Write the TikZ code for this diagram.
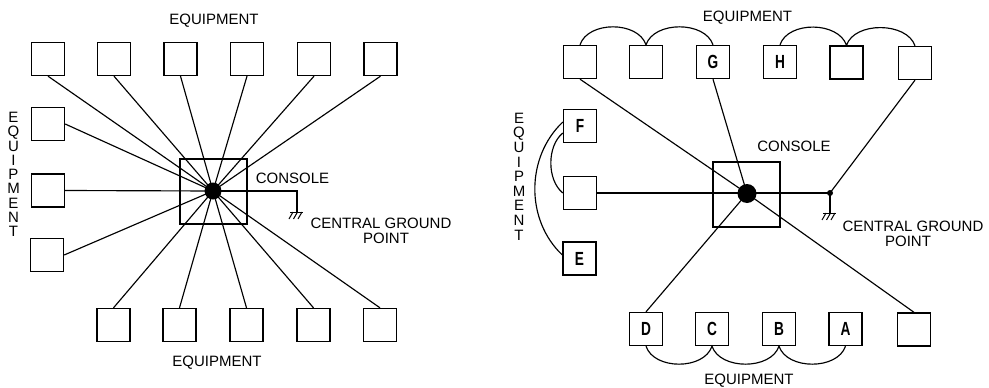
\documentclass[tikz,border=0pt]{standalone}
\usepackage{fontspec}
\setmainfont{Liberation Sans}
\begin{document}
\begin{tikzpicture}[x=1pt,y=-1pt,
  eq/.style={draw, line width=1.35pt, minimum width=33pt, minimum height=33pt, inner sep=0pt,
    font=\fontsize{19}{19}\selectfont\bfseries},
  wire/.style={line width=1.15pt},
  lbl/.style={font=\fontsize{15}{15}\selectfont, inner sep=0pt},
  vlbl/.style={inner sep=0pt, align=center},
  consolebox/.style={draw, line width=1.25pt, minimum width=67pt, minimum height=65pt, inner sep=0pt},
  hubdot/.style={circle, fill, inner sep=0pt},
  gnd/.pic={\draw[line width=1pt] (-7,0) -- (6,0);
    \foreach \gx in {-4,0.5,5} \draw[line width=1pt] (\gx,0) -- ++(-4,7);}
]
\useasboundingbox (0,0) rectangle (989,388);

% ================= LEFT DIAGRAM =================
\node[consolebox] (conL) at (213.5,191.5) {};
\foreach \n/\x in {1/48,2/114,3/180.5,4/247,5/314,6/380.5}
  \node[eq] (lt\n) at (\x,59) {};
\node[eq] (ll1) at (48,124) {};
\node[eq] (ll2) at (48,190.5) {};
\node[eq] (ll3) at (47,255) {};
\foreach \n/\x in {1/113.5,2/179.5,3/246.5,4/313.5,5/380}
  \node[eq] (lb\n) at (\x,325) {};
\coordinate (hubLc) at (213,191);
\foreach \n in {1,...,6} \draw[wire] (lt\n.south) -- (hubLc);
\foreach \n in {1,...,5} \draw[wire] (lb\n.north) -- (hubLc);
\foreach \n in {1,2,3} \draw[wire] (ll\n.east) -- (hubLc);
\coordinate (gLa) at (297,191);
\coordinate (gLb) at (297,212);
\draw[wire] (hubLc) -- (gLa) -- (gLb);
\pic at (gLb) {gnd};
\node[hubdot, minimum size=17pt] (hubL) at (hubLc) {};

\node[lbl] (eqLt) at (214,21) {EQUIPMENT};
\node[lbl] (eqLb) at (217,362.5) {EQUIPMENT};
\node[lbl] (conLt) at (292.5,178.5) {CONSOLE};
\node[lbl, align=center, font=\fontsize{15}{14.5}\selectfont] (cgpL) at (381,231) {CENTRAL GROUND\\\hspace*{10pt}POINT};
\node[vlbl, font=\fontsize{15}{14.3}\selectfont] (eqLv) at (13.5,174.5) {E\\Q\\U\\I\\P\\M\\E\\N\\T};

% ================= RIGHT DIAGRAM =================
\node[consolebox] (conR) at (746.5,194.5) {};
\node[eq] (rt1) at (580,62) {};
\node[eq] (rt2) at (646,62) {};
\node[eq] (rG) at (713,62) {\scalebox{0.72}[1]{G}};
\node[eq] (rH) at (780,62) {\scalebox{0.72}[1]{H}};
\node[eq] (rt5) at (846.5,62.5) {};
\node[eq] (rt6) at (915,63) {};
\node[eq] (rF) at (580,126) {\scalebox{0.72}[1]{F}};
\node[eq] (rM) at (580,193) {};
\node[eq] (rE) at (579.5,258.5) {\scalebox{0.72}[1]{E}};
\node[eq] (rD) at (646,329) {\scalebox{0.72}[1]{D}};
\node[eq] (rC) at (712,329) {\scalebox{0.72}[1]{C}};
\node[eq] (rB) at (779,329) {\scalebox{0.72}[1]{B}};
\node[eq] (rA) at (845.5,329) {\scalebox{0.72}[1]{A}};
\node[eq] (rb5) at (914,329.5) {};

\coordinate (hubRc) at (747,193.5);
\coordinate (jR) at (830,193);
\coordinate (gRb) at (830,213);
\draw[wire] (rt1.south) -- (hubRc);
\draw[wire] (rG.south) -- (hubRc);
\draw[wire] (rD.north) -- (hubRc);
\draw[wire] (rb5.north) -- (hubRc);
\draw[wire] (rM.east) -- (jR);
\draw[wire] (rt6.south) -- (jR);
\draw[wire] (jR) -- (gRb);
\pic at (gRb) {gnd};
\node[hubdot, minimum size=19pt] (hubR) at (hubRc) {};
\node[hubdot, minimum size=6pt] (jRd) at (jR) {};

% jumper arcs
\draw[wire] (rt1.north) .. controls +(8,-24) and +(-8,-24) .. (rt2.north)
                        .. controls +(8,-24) and +(-8,-24) .. (rG.north);
\draw[wire] (rH.north) .. controls +(8,-24) and +(-8,-24) .. (rt5.north)
                       .. controls +(8,-24) and +(-8,-24) .. (rt6.north);
\draw[wire] (rD.south) .. controls +(8,24) and +(-8,24) .. (rC.south)
                       .. controls +(8,24) and +(-8,24) .. (rB.south)
                       .. controls +(8,24) and +(-8,24) .. (rA.south);
\draw[wire] ([yshift=-7pt]rF.west) .. controls +(-16,13) and +(-16,-13) .. (rM.west);
\draw[wire] ([yshift=4pt]rF.west) .. controls +(-37,35) and +(-37,-35) .. ([yshift=3.5pt]rE.west);

\node[lbl] (eqRt) at (747.5,17.5) {EQUIPMENT};
\node[lbl] (eqRb) at (749,381) {EQUIPMENT};
\node[lbl] (conRt) at (794,146) {CONSOLE};
\node[lbl, align=center, font=\fontsize{15}{14.5}\selectfont] (cgpR) at (913,234) {CENTRAL GROUND\\\hspace*{-10pt}POINT};
\node[vlbl, font=\fontsize{15}{14.6}\selectfont] (eqRv) at (519,176.5) {E\\Q\\U\\I\\P\\M\\E\\N\\T};
\end{tikzpicture}
\end{document}
